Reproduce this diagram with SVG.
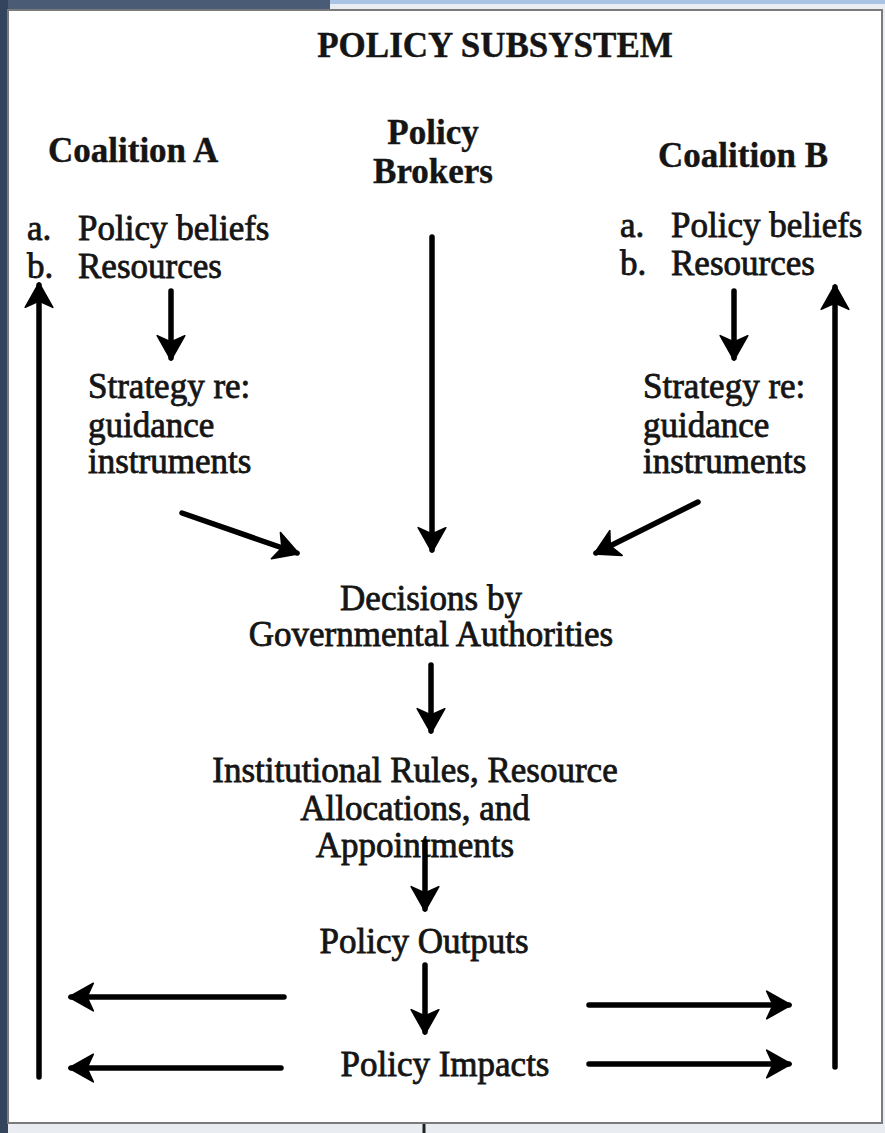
<svg xmlns="http://www.w3.org/2000/svg" width="885" height="1133" viewBox="0 0 885 1133">
<style>
.t{font-family:"Liberation Serif","Times New Roman",serif;font-size:35px;fill:#151515;stroke:#151515;stroke-width:0.8}
.b{font-weight:bold;stroke-width:0.4}
.m{text-anchor:middle}
.c{stroke:#000;stroke-width:5.5;fill:none;stroke-linecap:round}
</style>
<defs>
<marker id="ah" markerUnits="userSpaceOnUse" markerWidth="34" markerHeight="34" refX="0" refY="0" viewBox="-28 -16 32 32" orient="auto" overflow="visible">
<path d="M2,0 L-21,-13 L-15,0 L-21,13 Z" fill="#000" stroke="#000" stroke-width="1.5" stroke-linejoin="round"/>
</marker>
</defs>
<rect id="bg" x="0" y="0" width="885" height="1133" fill="#e9edf2"/>
<rect x="0" y="0" width="885" height="4" fill="#a8c3e4"/>
<rect x="0" y="0" width="330" height="10" fill="#4a5b76"/>
<rect x="0" y="0" width="8" height="1133" fill="#34445c"/>
<rect id="frame" x="8" y="10" width="874" height="1113" fill="#fff" stroke="#7a7a7a" stroke-width="2"/>
<line x1="424" y1="1124" x2="424" y2="1133" stroke="#222" stroke-width="3"/>
<g id="title"><text class="t b m" x="495" y="57">POLICY SUBSYSTEM</text></g>
<g id="coalitionA">
<text class="t b" x="48" y="162">Coalition A</text>
<text class="t" x="27" y="240">a.</text><text class="t" x="78" y="240">Policy beliefs</text>
<text class="t" x="27" y="278">b.</text><text class="t" x="78" y="278">Resources</text>
</g>
<g id="brokers"><text class="t b m" x="433" y="144">Policy</text><text class="t b m" x="433" y="183">Brokers</text></g>
<g id="coalitionB">
<text class="t b" x="658" y="167">Coalition B</text>
<text class="t" x="620" y="237">a.</text><text class="t" x="671" y="237">Policy beliefs</text>
<text class="t" x="620" y="275">b.</text><text class="t" x="671" y="275">Resources</text>
</g>
<g id="strategyA">
<text class="t" x="88" y="398">Strategy re:</text>
<text class="t" x="88" y="437">guidance</text>
<text class="t" x="88" y="473">instruments</text>
</g>
<g id="strategyB">
<text class="t" x="643" y="398">Strategy re:</text>
<text class="t" x="643" y="437">guidance</text>
<text class="t" x="643" y="473">instruments</text>
</g>
<g id="decisions">
<text class="t m" x="431" y="610">Decisions by</text>
<text class="t m" x="431" y="646">Governmental Authorities</text>
</g>
<g id="rules">
<text class="t m" x="415" y="782">Institutional Rules, Resource</text>
<text class="t m" x="415" y="820">Allocations, and</text>
<text class="t m" x="415" y="857">Appointments</text>
</g>
<g id="outputs"><text class="t m" x="424" y="953">Policy Outputs</text></g>
<g id="impacts"><text class="t m" x="445" y="1076">Policy Impacts</text></g>
<g id="connectors">
<line class="c" x1="432" y1="237" x2="432" y2="550" marker-end="url(#ah)"/>
<line class="c" x1="171" y1="291" x2="171" y2="358" marker-end="url(#ah)"/>
<line class="c" x1="734" y1="291" x2="734" y2="358" marker-end="url(#ah)"/>
<line class="c" x1="182" y1="513" x2="297" y2="553" marker-end="url(#ah)"/>
<line class="c" x1="698" y1="502" x2="596" y2="553" marker-end="url(#ah)"/>
<line class="c" x1="431" y1="665" x2="431" y2="731" marker-end="url(#ah)"/>
<line class="c" x1="425" y1="842" x2="425" y2="909" marker-end="url(#ah)"/>
<line class="c" x1="425" y1="965" x2="425" y2="1032" marker-end="url(#ah)"/>
<line class="c" x1="284" y1="997" x2="71" y2="997" marker-end="url(#ah)"/>
<line class="c" x1="281" y1="1068" x2="71" y2="1068" marker-end="url(#ah)"/>
<line class="c" x1="589" y1="1005" x2="789" y2="1005" marker-end="url(#ah)"/>
<line class="c" x1="589" y1="1064" x2="789" y2="1064" marker-end="url(#ah)"/>
<line class="c" x1="39" y1="1077" x2="39" y2="285" marker-end="url(#ah)"/>
<line class="c" x1="835" y1="1067" x2="835" y2="287" marker-end="url(#ah)"/>
</g>
</svg>
